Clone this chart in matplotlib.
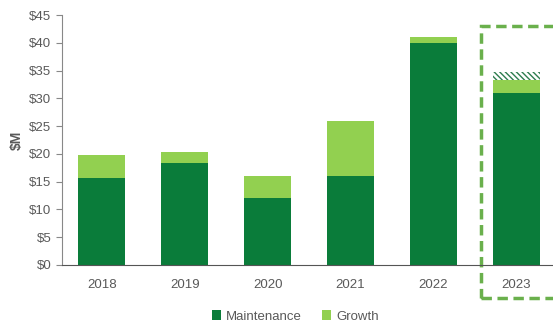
import matplotlib
matplotlib.use("Agg")
import matplotlib.pyplot as plt
from matplotlib.patches import Rectangle
import numpy as np

plt.rcParams['font.family'] = ['Liberation Sans', 'DejaVu Sans']

years = ["2018", "2019", "2020", "2021", "2022", "2023"]
maintenance = [15.6, 18.4, 12.1, 16.0, 40.0, 31.0]
growth = [4.2, 1.9, 3.9, 9.9, 1.0, 2.3]
# extra hatched estimate on top of 2023
hatched = [0, 0, 0, 0, 0, 1.4]

dark = '#0a7c3a'
light = '#92d050'
gray = '#595959'

fig = plt.figure(figsize=(5.53, 3.27), dpi=100)
ax = fig.add_axes([0.112, 0.19, 0.888, 0.764])

x = np.arange(len(years))
w = 0.57
ax.bar(x, maintenance, w, color=dark, label='Maintenance')
ax.bar(x, growth, w, bottom=maintenance, color=light, label='Growth')
base = np.array(maintenance) + np.array(growth)
plt.rcParams['hatch.linewidth'] = 1.0
ax.bar(x, hatched, w, bottom=base, facecolor='white', edgecolor='#2e7d4f',
       hatch='\\\\\\\\\\\\', lw=0)

ax.set_xlim(-0.48, 5.44)
ax.set_ylim(0, 45)
ax.set_yticks(range(0, 46, 5))
ax.set_yticklabels([f"${v}" for v in range(0, 46, 5)])
ax.set_xticks(x)
ax.set_xticklabels(years)
ax.tick_params(axis='x', length=0, pad=10, colors=gray, labelsize=9.5)
ax.tick_params(axis='y', length=4, colors='#888888', labelcolor=gray, labelsize=9.5, direction='out')
ax.set_ylabel('$M', fontweight='bold', color=gray, fontsize=10)
for s in ['top', 'right']:
    ax.spines[s].set_visible(False)
ax.spines['left'].set_color('#888888')
ax.spines['bottom'].set_color('#555555')

# dashed highlight box around 2023
box = Rectangle((4.57, -5.95), 1.5, 49.0, fill=False, edgecolor='#6ab04c',
                lw=2.5, ls=(0, (3, 1.6)), clip_on=False)
ax.add_patch(box)

ax.legend(loc='upper center', bbox_to_anchor=(0.475, -0.135), ncol=2, frameon=False,
          handlelength=0.7, handleheight=0.7, handletextpad=0.4, columnspacing=1.5,
          fontsize=9.5, labelcolor=gray)

fig.savefig('out.png', dpi=100)
